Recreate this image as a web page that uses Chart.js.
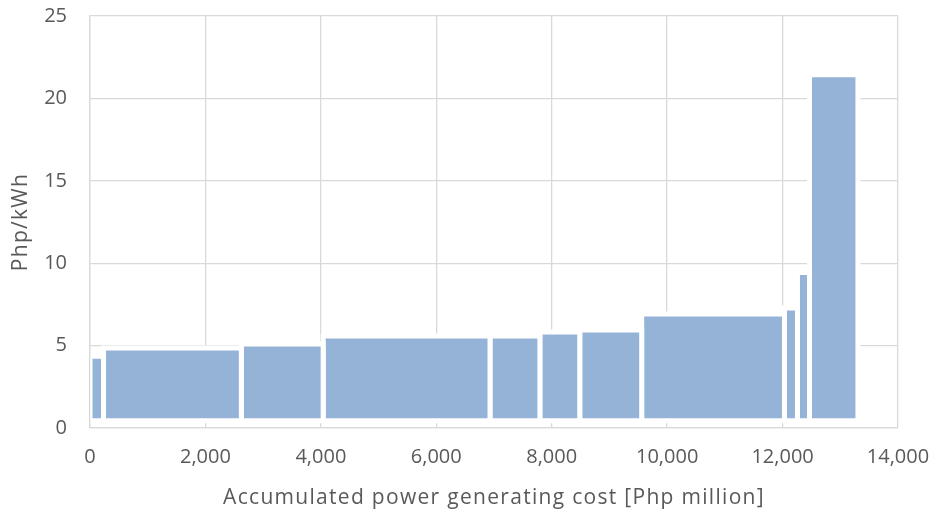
<!DOCTYPE html>
<html>
<head>
<meta charset="utf-8">
<script src="https://cdn.jsdelivr.net/npm/chart.js@4"></script>
<style>
  body { margin: 0; background: #fff; }
</style>
</head>
<body>
<canvas id="chart" width="936" height="515"></canvas>
<script>
// merit order blocks: edges on the accumulated cost axis, price per block
const costEdges = [0, 234, 2622, 4040, 6931, 7795, 8486, 9559, 12033, 12258, 12466, 13306];
const unitPrice = [4.36, 4.85, 5.09, 5.58, 5.58, 5.82, 5.94, 6.91, 7.28, 9.44, 21.44];
const barBase = 0.44;
const xTicks = [0, 2000, 4000, 6000, 8000, 10000, 12000, 14000];
const yTicks = [0, 5, 10, 15, 20, 25];

const gridColor = "#d9d9d9";
const textColor = "#595959";
const fontFamily = "'Open Sans', sans-serif";

// one closed rectangle per block, drawn on the linear scales
const datasets = unitPrice.map((price, i) => {
  const x0 = costEdges[i];
  const x1 = costEdges[i + 1];
  return {
    data: [
      { x: x0, y: barBase },
      { x: x0, y: price },
      { x: x1, y: price },
      { x: x1, y: barBase },
      { x: x0, y: barBase }
    ],
    showLine: true,
    fill: "shape",
    backgroundColor: "#95b3d7",
    borderColor: "#ffffff",
    borderWidth: 5,
    borderJoinStyle: "miter",
    pointRadius: 0,
    tension: 0
  };
});

// axis titles are drawn with the grid layer, so give them a bit of tracking
// and switch it off again before the bars and tick labels
const titleSpacing = {
  id: "titleSpacing",
  beforeDraw(chart) { chart.ctx.letterSpacing = "1.3px"; },
  beforeDatasetsDraw(chart) { chart.ctx.letterSpacing = "0px"; }
};

new Chart(document.getElementById("chart").getContext("2d"), {
  type: "scatter",
  data: { datasets: datasets },
  plugins: [titleSpacing],
  options: {
    responsive: false,
    animation: false,
    layout: { padding: { top: 16, right: 38, left: 0, bottom: 0 } },
    plugins: {
      legend: { display: false },
      tooltip: { enabled: false }
    },
    scales: {
      x: {
        type: "linear",
        min: xTicks[0],
        max: xTicks[xTicks.length - 1],
        afterFit: (s) => { s.height = 87; s.paddingLeft = 0; s.paddingRight = 0; },
        afterBuildTicks: (s) => { s.ticks = xTicks.map(v => ({ value: v })); },
        grid: { color: gridColor, lineWidth: 1.3, drawTicks: false },
        border: { color: gridColor, width: 1.3, z: 1 },
        ticks: {
          z: 1,
          color: textColor,
          font: { family: fontFamily, size: 20 },
          padding: 17,
          maxRotation: 0,
          callback: (v) => v.toLocaleString("en-US")
        },
        title: {
          display: true,
          text: "Accumulated power generating cost [Php million]",
          color: textColor,
          font: { family: fontFamily, size: 21 },
          padding: { top: 0, bottom: 4 }
        }
      },
      y: {
        min: yTicks[0],
        max: yTicks[yTicks.length - 1],
        afterFit: (s) => { s.width = 90; s.paddingTop = 0; s.paddingBottom = 0; },
        afterBuildTicks: (s) => { s.ticks = yTicks.map(v => ({ value: v })); },
        grid: { color: gridColor, lineWidth: 1.3, drawTicks: false },
        border: { color: gridColor, width: 1.3, z: 1 },
        ticks: {
          z: 1,
          color: textColor,
          font: { family: fontFamily, size: 20 },
          padding: 23
        },
        title: {
          display: true,
          text: "Php/kWh",
          color: textColor,
          font: { family: fontFamily, size: 21 },
          padding: { top: 8, bottom: 0 }
        }
      }
    }
  }
});
</script>
</body>
</html>
